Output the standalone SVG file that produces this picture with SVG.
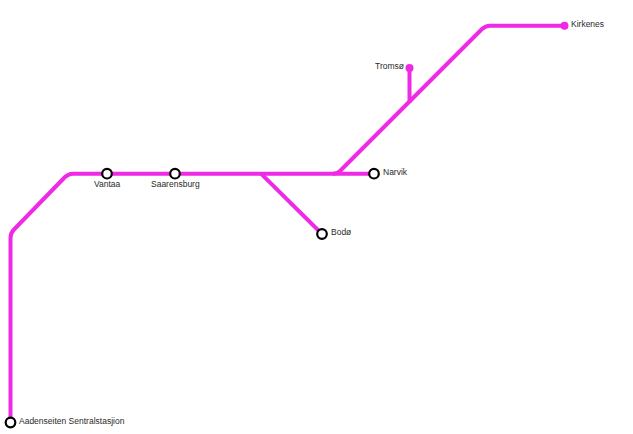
<svg xmlns="http://www.w3.org/2000/svg" width="633" height="434" viewBox="0 0 633 434">
<style>
.line{fill:none;stroke:#ee2ae4;stroke-width:4;stroke-linejoin:round}
.st{fill:#fff;stroke:#000;stroke-width:2.2}
.end{fill:#ee2ae4}
text{font-family:"Liberation Sans",Arial,sans-serif;font-size:8.5px;fill:#2a2a2a}
</style>
<rect width="633" height="434" fill="#fff"/>
<g id="connectors">
<path class="line" d="M10.500 422V238Q10.500 233 14 229.500L65 177Q68.500 173.700 73 173.700H374"/>
<path class="line" d="M261 173.700L322 234"/>
<path class="line" d="M333 173.700Q337 173.700 339.500 171.500L482 29Q485.500 25.700 490 25.700H565"/>
<path class="line" d="M409.500 68V103"/>
</g>
<g id="node-aadenseiten"><circle class="st" cx="10.500" cy="422.500" r="4.800"/><text x="19" y="423.500">Aadenseiten Sentralstasjion</text></g>
<g id="node-vantaa"><circle class="st" cx="107" cy="173.700" r="4.800"/><text x="94" y="187">Vantaa</text></g>
<g id="node-saarensburg"><circle class="st" cx="175" cy="173.700" r="4.800"/><text x="151" y="187">Saarensburg</text></g>
<g id="node-narvik"><circle class="st" cx="374" cy="173.700" r="4.800"/><text x="383" y="175">Narvik</text></g>
<g id="node-bodo"><circle class="st" cx="322" cy="234" r="4.800"/><text x="331" y="235">Bodø</text></g>
<g id="node-tromso"><circle class="end" cx="409.500" cy="68" r="4"/><text x="375" y="69">Tromsø</text></g>
<g id="node-kirkenes"><circle class="end" cx="564.500" cy="25.700" r="4"/><text x="571" y="27">Kirkenes</text></g>
</svg>
